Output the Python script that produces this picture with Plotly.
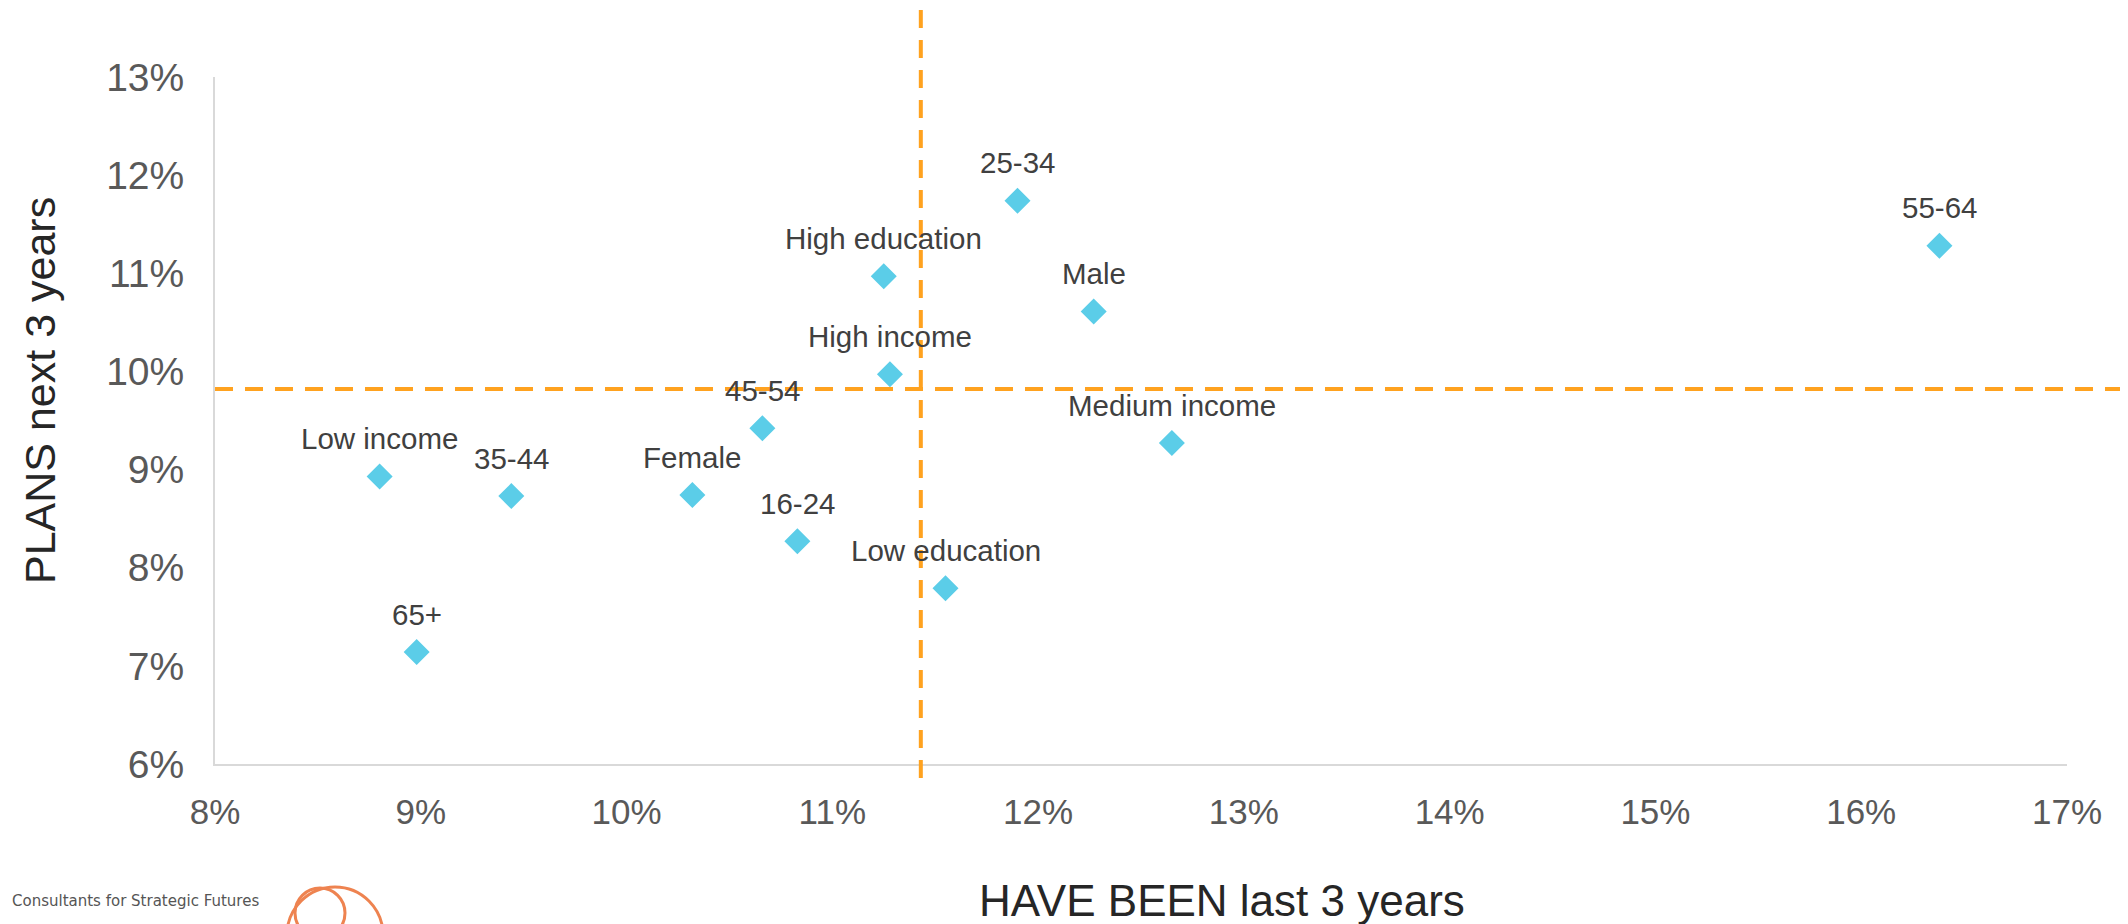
import plotly.graph_objects as go

labels = ["Low income", "35-44", "65+", "Female", "45-54", "16-24", "High education",
          "High income", "Low education", "25-34", "Male", "Medium income", "55-64"]
have_been = [8.80, 9.44, 8.98, 10.32, 10.66, 10.83, 11.25, 11.28, 11.55, 11.90, 12.27, 12.65, 16.38]
plans = [8.93, 8.73, 7.14, 8.74, 9.42, 8.27, 10.97, 9.97, 7.79, 11.74, 10.61, 9.27, 11.28]

avg_have_been = 11.43
avg_plans = 9.82

x_ticks = list(range(8, 18))
y_ticks = list(range(6, 14))

# the page body has an 8px margin; size the figure so it ends at the window edge
O = 8
W, H = 2128 - O, 924 - O
L, R, T, B = 215 - O, 61, 77 - O, 160
pw, ph = W - L - R, H - T - B

fig = go.Figure()
fig.add_trace(go.Scatter(
    x=have_been, y=plans, mode="markers",
    marker=dict(symbol="diamond", size=20, color="#5BCDE8", line=dict(width=0)),
    hoverinfo="skip", showlegend=False, cliponaxis=False,
))

for lab, xv, yv in zip(labels, have_been, plans):
    fig.add_annotation(x=xv, y=yv, text=lab, showarrow=False, yshift=38,
                       xanchor="center", yanchor="middle",
                       font=dict(family="Liberation Sans, Arial", size=29.5, color="#404040"))

orange = "#FFA21F"
# vertical average line: from top of figure to just below the x axis
fig.add_shape(type="line", xref="x", yref="paper", x0=avg_have_been, x1=avg_have_been,
              y0=-14 / ph, y1=1 + T / ph, line=dict(color=orange, width=4, dash="18px,12px"))
# horizontal average line: from y axis to right edge of figure
fig.add_shape(type="line", xref="paper", yref="y", x0=0, x1=1 + R / pw,
              y0=avg_plans, y1=avg_plans, line=dict(color=orange, width=4, dash="18px,12px"))

def px2paper(px, py):
    # px, py are window pixel coordinates
    return (px - O - L) / pw, (H - B - (py - O)) / ph

# axis titles
tx, ty = px2paper(1222, 900)
fig.add_annotation(xref="paper", yref="paper", x=tx, y=ty, xanchor="center", yanchor="middle",
                   text="HAVE BEEN last 3 years", showarrow=False,
                   font=dict(family="Liberation Sans, Arial", size=44, color="#262626"))
tx, ty = px2paper(40, 391)
fig.add_annotation(xref="paper", yref="paper", x=tx, y=ty, xanchor="center", yanchor="middle",
                   text="PLANS next 3 years", showarrow=False, textangle=-90,
                   font=dict(family="Liberation Sans Narrow, Arial Narrow, Liberation Sans", size=43, color="#262626"))

# footer logo remnants
tx, ty = px2paper(10, 912)
fig.add_annotation(xref="paper", yref="paper", x=tx, y=ty,
                   xanchor="left", yanchor="bottom", text="Consultants for Strategic Futures",
                   showarrow=False, font=dict(family="DejaVu Sans, Liberation Sans", size=15, color="#555555"))
for cx, cy, r in [(320, 913, 25), (335, 935, 48)]:
    x0, y0 = px2paper(cx - r, cy + r)
    x1, y1 = px2paper(cx + r, cy - r)
    fig.add_shape(type="circle", xref="paper", yref="paper", x0=x0, y0=y0, x1=x1, y1=y1,
                  line=dict(color="#EE8350", width=3))

fig.update_xaxes(range=[8, 17], tickvals=x_ticks, ticktext=[f"{v}%" for v in x_ticks],
                 showgrid=False, zeroline=False, showline=True, linecolor="#D9D9D9", linewidth=2,
                 ticks="", automargin=False, ticklabelstandoff=16,
                 tickfont=dict(family="Liberation Sans, Arial", size=35, color="#595959"))
fig.update_yaxes(range=[6, 13], tickvals=y_ticks, ticktext=[f"{v}%" for v in y_ticks],
                 showgrid=False, zeroline=False, showline=True, linecolor="#D9D9D9", linewidth=2,
                 ticks="", automargin=False, ticklabelstandoff=21,
                 tickfont=dict(family="Liberation Sans, Arial", size=39, color="#595959"))
fig.update_layout(width=W, height=H, margin=dict(l=L, r=R, t=T, b=B),
                  paper_bgcolor="white", plot_bgcolor="white")
fig.write_html("out.html")
